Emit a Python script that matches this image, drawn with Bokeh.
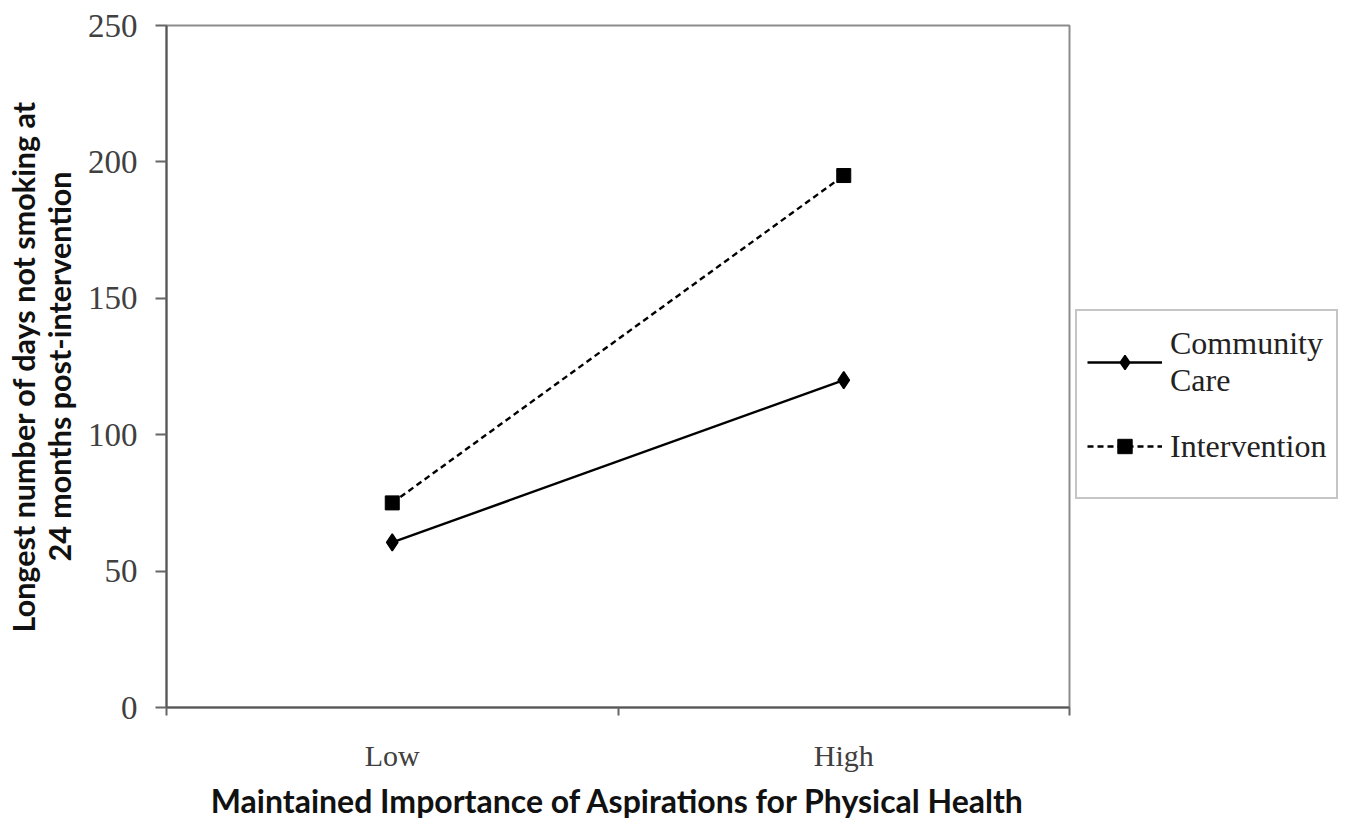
from bokeh.plotting import figure
from bokeh.models import Legend, LegendItem, FixedTicker, Range1d, LinearAxis
from bokeh.embed import file_html
from bokeh.resources import INLINE

categories = ["Low", "High"]
community_care = [60.5, 120]
intervention = [75, 195]
y_ticks = [0, 50, 100, 150, 200, 250]
series_names = ["Community\nCare", "Intervention"]
x_title = "Maintained Importance of Aspirations for Physical Health"
y_title = "Longest number of days not smoking at\n24 months post-intervention"

x_pos = [i + 0.5 for i in range(len(categories))]
x_bounds = [float(i) for i in range(len(categories) + 1)]

p = figure(frame_width=903, frame_height=682,
           x_range=Range1d(0, len(categories)), y_range=Range1d(0, 250),
           output_backend="svg", toolbar_location=None,
           min_border_left=166, min_border_top=25, min_border_bottom=108,
           min_border_right=272)
p.xgrid.visible = False
p.ygrid.visible = False
p.outline_line_color = "#8c8c8c"
p.outline_line_width = 2

ly = p.yaxis[0]
ly.ticker = FixedTicker(ticks=y_ticks, minor_ticks=[])
ly.major_tick_out = 11
ly.major_tick_in = 0
ly.minor_tick_out = 0
ly.minor_tick_in = 0
ly.axis_line_color = "#555555"
ly.axis_line_width = 2
ly.major_tick_line_color = "#666666"
ly.major_tick_line_width = 2
ly.major_label_text_font = "Liberation Serif"
ly.major_label_text_font_size = "33px"
ly.major_label_text_color = "#404040"
ly.major_label_standoff = 18
ly.axis_label = y_title
ly.axis_label_text_font = "Lato"
ly.axis_label_text_font_style = "bold"
ly.axis_label_text_font_size = "30.5px"
ly.axis_label_text_color = "#111111"
ly.axis_label_text_line_height = 1.0
ly.axis_label_standoff = 8

lx = p.xaxis[0]
lx.ticker = FixedTicker(ticks=x_pos, minor_ticks=x_bounds)
lx.major_label_overrides = {x: c for x, c in zip(x_pos, categories)}
lx.major_tick_out = 0
lx.major_tick_in = 0
lx.minor_tick_out = 8
lx.minor_tick_in = 0
lx.minor_tick_line_color = "#666666"
lx.minor_tick_line_width = 2
lx.axis_line_color = "#555555"
lx.axis_line_width = 2
lx.major_label_text_font = "Liberation Serif"
lx.major_label_text_font_size = "30px"
lx.major_label_text_color = "#404040"
lx.major_label_standoff = 23
lx.axis_label = x_title
lx.axis_label_text_font = "Lato"
lx.axis_label_text_font_style = "bold"
lx.axis_label_text_font_size = "32px"
lx.axis_label_text_color = "#111111"
lx.axis_label_standoff = 6

l1 = p.line(x_pos, community_care, line_color="black", line_width=2.4)
m1 = p.scatter(x_pos, community_care, marker="diamond", size=17,
               fill_color="black", line_color="black", line_width=1.5)
l2 = p.line(x_pos, intervention, line_color="black", line_width=2.4,
            line_dash="6 4")
m2 = p.scatter(x_pos, intervention, marker="square", size=14,
               fill_color="black", line_color="black")

legend = Legend(items=[LegendItem(label=series_names[0], renderers=[l1, m1]),
                       LegendItem(label=series_names[1], renderers=[l2, m2])],
                location=(6, 208))
legend.border_line_color = "#8c8c8c"
legend.border_line_width = 2
legend.label_text_font = "Liberation Serif"
legend.label_text_font_size = "32px"
legend.label_text_color = "#222222"
legend.glyph_width = 75
legend.glyph_height = 36
legend.label_height = 82
legend.label_standoff = 8
legend.padding = 10
legend.spacing = 2
legend.margin = 0
p.add_layout(legend, "right")

edge_axis = LinearAxis(ticker=FixedTicker(ticks=[]),
                       major_label_text_font_size="0px",
                       major_tick_out=0, major_tick_in=0,
                       minor_tick_out=0, minor_tick_in=0,
                       axis_line_color="#aaaaaa", axis_line_width=2)
p.add_layout(edge_axis, "right")

open("out.html", "w").write(file_html(p, INLINE))
